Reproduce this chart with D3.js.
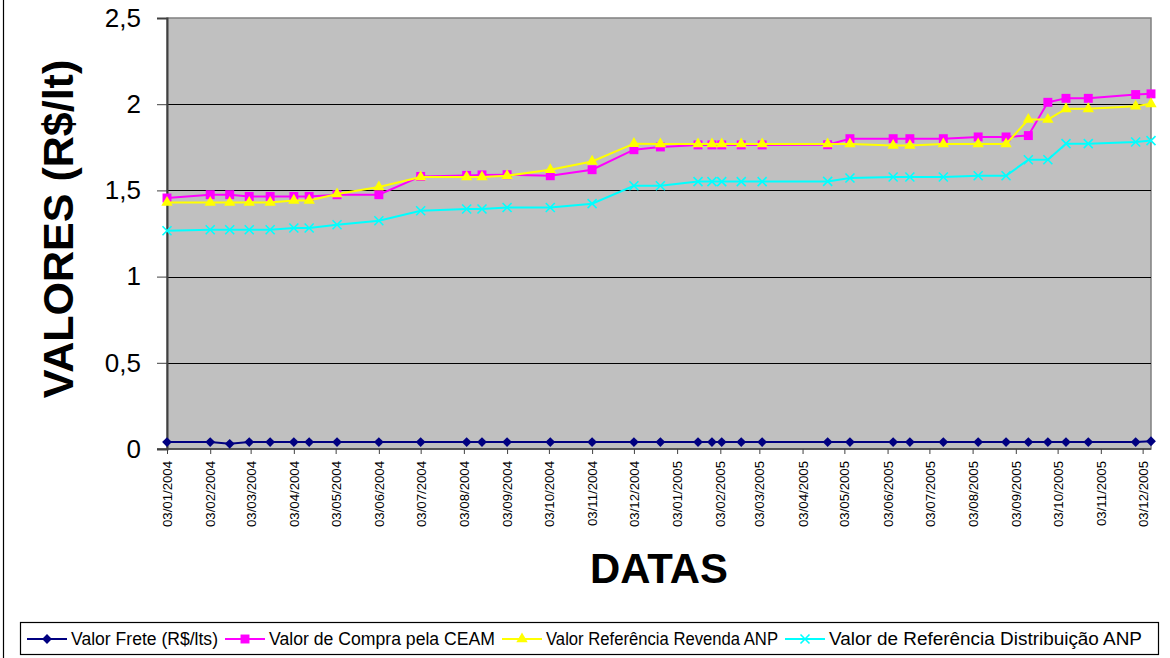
<!DOCTYPE html>
<html>
<head>
<meta charset="utf-8">
<script src="https://cdn.jsdelivr.net/npm/d3@7"></script>
<style>
  body { margin: 0; background: #fff; }
  svg { display: block; font-family: "Liberation Sans", Arial, sans-serif; }
</style>
</head>
<body>
<div id="chart"></div>
<script>
// dates of each reading (dd/mm/yyyy)
const dates = [
  '03/01/2004', '03/02/2004', '17/02/2004', '02/03/2004', '17/03/2004', '03/04/2004', '14/04/2004',
  '04/05/2004', '03/06/2004', '03/07/2004', '05/08/2004', '16/08/2004', '03/09/2004', '04/10/2004',
  '03/11/2004', '03/12/2004', '22/12/2004', '18/01/2005', '28/01/2005', '04/02/2005', '18/02/2005',
  '05/03/2005', '21/04/2005', '07/05/2005', '07/06/2005', '19/06/2005', '13/07/2005', '07/08/2005',
  '27/08/2005', '12/09/2005', '26/09/2005', '09/10/2005', '25/10/2005', '28/11/2005', '09/12/2005'
];

const frete = [
  0.04, 0.04, 0.03, 0.04, 0.04, 0.04, 0.04, 0.04, 0.04, 0.04, 0.04, 0.04, 0.04, 0.04, 0.04, 0.04, 0.04,
  0.04, 0.04, 0.04, 0.04, 0.04, 0.04, 0.04, 0.04, 0.04, 0.04, 0.04, 0.04, 0.04, 0.04, 0.04, 0.04, 0.04, 0.045
];

const compraCeam = [
  1.456, 1.475, 1.475, 1.465, 1.465, 1.465, 1.465, 1.475, 1.475, 1.581, 1.587, 1.59, 1.591, 1.585,
  1.62, 1.736, 1.752, 1.764, 1.764, 1.764, 1.764, 1.764, 1.765, 1.8, 1.8, 1.8, 1.8, 1.81, 1.81,
  1.818, 2.011, 2.034, 2.034, 2.056, 2.06
];

const revendaAnp = [
  1.43, 1.43, 1.43, 1.43, 1.43, 1.442, 1.442, 1.479, 1.52, 1.578, 1.578, 1.578, 1.585, 1.62,
  1.668, 1.771, 1.769, 1.769, 1.769, 1.769, 1.769, 1.769, 1.769, 1.769, 1.76, 1.76, 1.769, 1.769,
  1.769, 1.911, 1.911, 1.973, 1.973, 1.988, 2.002
];

const distribuicaoAnp = [
  1.266, 1.272, 1.272, 1.272, 1.272, 1.282, 1.282, 1.301, 1.324, 1.382, 1.392, 1.392, 1.401, 1.401,
  1.423, 1.527, 1.527, 1.551, 1.551, 1.551, 1.551, 1.551, 1.552, 1.572, 1.578, 1.578, 1.578, 1.585,
  1.585, 1.678, 1.678, 1.771, 1.771, 1.781, 1.789
];

const xTickLabels = [
  '03/01/2004', '03/02/2004', '03/03/2004', '03/04/2004', '03/05/2004', '03/06/2004',
  '03/07/2004', '03/08/2004', '03/09/2004', '03/10/2004', '03/11/2004', '03/12/2004',
  '03/01/2005', '03/02/2005', '03/03/2005', '03/04/2005', '03/05/2005', '03/06/2005',
  '03/07/2005', '03/08/2005', '03/09/2005', '03/10/2005', '03/11/2005', '03/12/2005'
];
const yTicks = [0, 0.5, 1, 1.5, 2, 2.5];
const yTickLabels = ['0', '0,5', '1', '1,5', '2', '2,5'];

const seriesNames = [
  'Valor Frete (R$/lts)',
  'Valor de Compra pela CEAM',
  'Valor Referência Revenda ANP',
  'Valor de Referência Distribuição ANP'
];
const seriesValues = [frete, compraCeam, revendaAnp, distribuicaoAnp];
const seriesColors = ['#000080', '#ff00ff', '#ffff00', '#00ffff'];
const seriesMarkers = ['diamond', 'square', 'triangle', 'cross'];
// legend text is drawn a bit wider than Liberation Sans sets it
const legendTextWidths = [147, 226, 232, 313];

const parseDate = d3.utcParse('%d/%m/%Y');
const W = 1170, H = 658;
const plot = { left: 167, right: 1151, top: 18, bottom: 449 };

const svg = d3.select('#chart').append('svg')
  .attr('width', W)
  .attr('height', H);

// outer chart border (only the left edge shows in the frame)
svg.append('line')
  .attr('x1', 3.5).attr('x2', 3.5)
  .attr('y1', 0).attr('y2', H)
  .attr('stroke', '#000').attr('stroke-width', 1.2);

const parsedDates = dates.map(parseDate);
const x = d3.scaleUtc()
  .domain([parsedDates[0], parsedDates[parsedDates.length - 1]])
  .range([plot.left, plot.right]);
const y = d3.scaleLinear()
  .domain([0, 2.5])
  .range([plot.bottom, plot.top]);

// plot background
svg.append('rect')
  .attr('x', plot.left).attr('y', plot.top)
  .attr('width', plot.right - plot.left)
  .attr('height', plot.bottom - plot.top)
  .attr('fill', '#c0c0c0')
  .attr('stroke', '#808080')
  .attr('stroke-width', 1.5);

// horizontal gridlines
svg.append('g')
  .selectAll('line')
  .data(yTicks.filter(d => d > 0 && d < 2.5))
  .join('line')
  .attr('x1', plot.left).attr('x2', plot.right)
  .attr('y1', d => Math.round(y(d)) + 0.5)
  .attr('y2', d => Math.round(y(d)) + 0.5)
  .attr('stroke', '#000')
  .attr('stroke-width', 1);

// y axis
const yAxis = svg.append('g')
  .attr('transform', `translate(${plot.left},0)`)
  .call(d3.axisLeft(y).tickValues(yTicks).tickSize(10).tickPadding(16)
    .tickFormat((d, i) => yTickLabels[i]));
yAxis.select('.domain').attr('stroke', '#404040').attr('stroke-width', 2);
yAxis.selectAll('.tick line').attr('stroke', '#404040');
yAxis.selectAll('.tick text')
  .attr('font-size', 26)
  .attr('fill', '#000')
  .attr('font-family', '"Liberation Sans", Arial, sans-serif');

// x axis
const xTicks = xTickLabels.map(parseDate);
const xAxis = svg.append('g')
  .attr('transform', `translate(0,${plot.bottom})`)
  .call(d3.axisBottom(x).tickValues(xTicks).tickSize(5).tickSizeOuter(0)
    .tickFormat((d, i) => xTickLabels[i]));
xAxis.select('.domain').attr('stroke', '#404040').attr('stroke-width', 1.5)
  .attr('d', `M${plot.left - 10},0H${plot.right}`);
xAxis.selectAll('.tick line').attr('stroke', '#404040');
xAxis.selectAll('.tick text')
  .attr('font-size', 13.2)
  .attr('fill', '#000')
  .attr('font-family', '"Liberation Sans", Arial, sans-serif')
  .attr('text-anchor', 'end')
  .attr('transform', 'rotate(-90)')
  .attr('x', -12)
  .attr('y', 0)
  .attr('dy', '0.35em');

// axis titles
svg.append('text')
  .attr('transform', 'translate(73,229) rotate(-90)')
  .attr('text-anchor', 'middle')
  .attr('font-size', 43)
  .attr('font-weight', 'bold')
  .text('VALORES (R$/lt)');

svg.append('text')
  .attr('x', 659)
  .attr('y', 583)
  .attr('text-anchor', 'middle')
  .attr('font-size', 42)
  .attr('font-weight', 'bold')
  .attr('textLength', 138)
  .attr('lengthAdjust', 'spacingAndGlyphs')
  .text('DATAS');

function drawMarker(g, type, color) {
  if (type === 'diamond') {
    g.append('path').attr('d', d3.symbol(d3.symbolSquare, 48)())
      .attr('transform', 'rotate(45)').attr('fill', color);
  } else if (type === 'square') {
    g.append('path').attr('d', d3.symbol(d3.symbolSquare, 80)()).attr('fill', color);
  } else if (type === 'triangle') {
    g.append('path').attr('d', d3.symbol(d3.symbolTriangle, 56)()).attr('fill', color);
  } else {
    g.append('path').attr('d', 'M-4.5,-4.5L4.5,4.5M-4.5,4.5L4.5,-4.5')
      .attr('stroke', color).attr('stroke-width', 1.6).attr('fill', 'none');
  }
}

const line = d3.line()
  .x(d => x(d.date))
  .y(d => y(d.value));

seriesValues.forEach((vals, si) => {
  const pts = vals.map((v, i) => ({ date: parsedDates[i], value: v }));
  const g = svg.append('g');
  g.append('path')
    .datum(pts)
    .attr('fill', 'none')
    .attr('stroke', seriesColors[si])
    .attr('stroke-width', 2)
    .attr('d', line);
  g.selectAll('g.pt')
    .data(pts)
    .join('g')
    .attr('class', 'pt')
    .attr('transform', d => `translate(${x(d.date)},${y(d.value)})`)
    .each(function () { drawMarker(d3.select(this), seriesMarkers[si], seriesColors[si]); });
});

// legend
const legend = svg.append('g');
legend.append('rect')
  .attr('x', 20.5).attr('y', 622.5)
  .attr('width', 1138).attr('height', 32)
  .attr('fill', '#fff')
  .attr('stroke', '#000')
  .attr('stroke-width', 1.2);

let lx = 27;
const ly = 639;
seriesNames.forEach((name, si) => {
  legend.append('line')
    .attr('x1', lx).attr('x2', lx + 40)
    .attr('y1', ly).attr('y2', ly)
    .attr('stroke', seriesColors[si])
    .attr('stroke-width', 2);
  drawMarker(legend.append('g').attr('transform', `translate(${lx + 20},${ly})`),
    seriesMarkers[si], seriesColors[si]);
  legend.append('text')
    .attr('x', lx + 44)
    .attr('y', ly + 6)
    .attr('font-size', 17.5)
    .attr('fill', '#000')
    .attr('textLength', legendTextWidths[si])
    .attr('lengthAdjust', 'spacingAndGlyphs')
    .text(name);
  lx += 44 + legendTextWidths[si] + 7;
});
</script>
</body>
</html>
